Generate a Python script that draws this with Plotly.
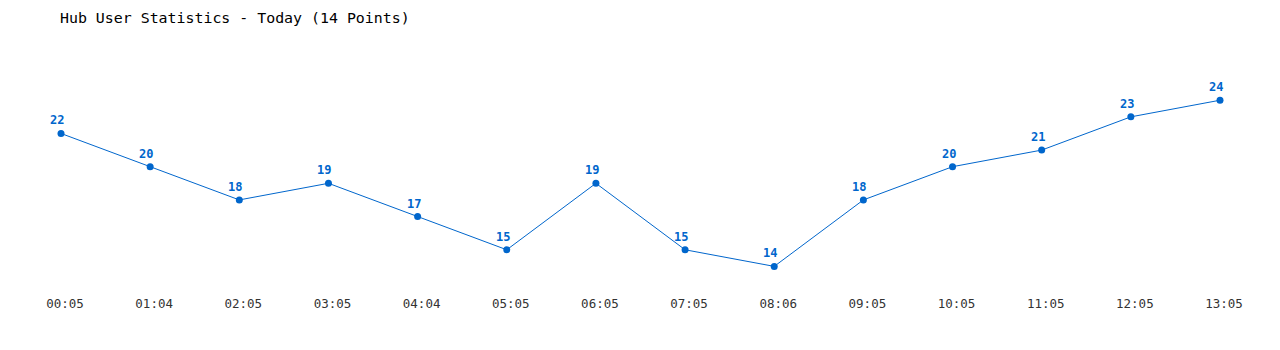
import plotly.graph_objects as go

times = ["00:05", "01:04", "02:05", "03:05", "04:04", "05:05", "06:05",
         "07:05", "08:06", "09:05", "10:05", "11:05", "12:05", "13:05"]
users = [22, 20, 18, 19, 17, 15, 19, 15, 14, 18, 20, 21, 23, 24]

idx = list(range(len(times)))
blue = "#0066cc"
font = "DejaVu Sans Mono"

fig = go.Figure(go.Scatter(
    x=idx, y=users, mode="lines+markers",
    line=dict(color=blue, width=1),
    marker=dict(color=blue, size=7),
    cliponaxis=False, hoverinfo="x+y",
))

for i, v in zip(idx, users):
    fig.add_annotation(x=i, y=v, text=str(v), showarrow=False,
                       xshift=-4, yshift=13, yanchor="middle",
                       font=dict(family=font, size=12, color=blue, weight="bold"))

fig.update_layout(
    width=1280, height=350,
    margin=dict(l=61, r=60, t=67, b=67),
    paper_bgcolor="white", plot_bgcolor="white",
    showlegend=False,
    title=dict(text="Hub User Statistics - Today (14 Points)",
               x=60/1280, xanchor="left", xref="container",
               y=1-18/350, yanchor="middle", yref="container",
               font=dict(family=font, size=14.9, color="#000")),
    xaxis=dict(range=[0, 13], tickmode="array", tickvals=idx, ticktext=times,
               showgrid=False, zeroline=False, showline=False,
               ticks="", ticklabelstandoff=11, ticklabelshift=4,
               tickfont=dict(family=font, size=12.5, color="#333")),
    yaxis=dict(range=[13, 26], visible=False, showgrid=False, zeroline=False),
)

fig.write_html("out.html")
